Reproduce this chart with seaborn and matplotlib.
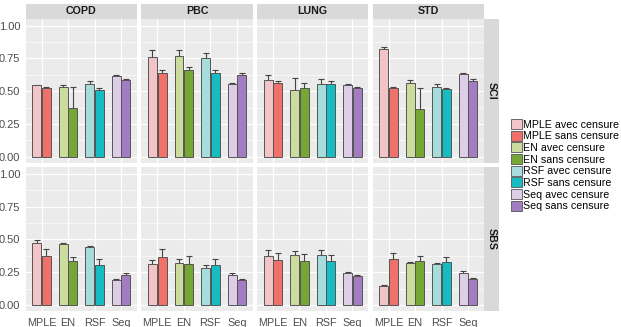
import numpy as np
import pandas as pd
import matplotlib
matplotlib.use("Agg")
import matplotlib.pyplot as plt
from matplotlib.patches import Rectangle, Patch
import seaborn as sns

datasets = ["COPD", "PBC", "LUNG", "STD"]
criteria = ["SCI", "SBS"]
methods = ["MPLE", "EN", "RSF", "Seq"]
censures = ["avec censure", "sans censure"]

# bar heights and top of error bar, one row per dataset, one column per method
sci_avec = [[0.545, 0.53, 0.555, 0.615], [0.76, 0.77, 0.75, 0.555],
            [0.585, 0.505, 0.557, 0.549], [0.823, 0.562, 0.529, 0.633]]
sci_avec_hi = [[0.55, 0.55, 0.575, 0.625], [0.81, 0.81, 0.79, 0.565],
               [0.62, 0.60, 0.595, 0.557], [0.835, 0.582, 0.552, 0.64]]
sci_sans = [[0.52, 0.37, 0.51, 0.585], [0.64, 0.66, 0.64, 0.62],
            [0.565, 0.524, 0.557, 0.527], [0.524, 0.36, 0.516, 0.58]]
sci_sans_hi = [[0.53, 0.53, 0.52, 0.595], [0.66, 0.685, 0.66, 0.635],
               [0.58, 0.56, 0.575, 0.534], [0.53, 0.52, 0.527, 0.592]]

sbs_avec = [[0.475, 0.467, 0.442, 0.188], [0.312, 0.322, 0.284, 0.228],
            [0.373, 0.378, 0.381, 0.244], [0.142, 0.317, 0.31, 0.244]]
sbs_avec_hi = [[0.492, 0.475, 0.452, 0.2], [0.34, 0.35, 0.305, 0.241],
               [0.419, 0.414, 0.419, 0.254], [0.155, 0.33, 0.32, 0.256]]
sbs_sans = [[0.373, 0.332, 0.307, 0.228], [0.368, 0.315, 0.302, 0.19],
            [0.345, 0.335, 0.332, 0.221], [0.353, 0.338, 0.33, 0.195]]
sbs_sans_hi = [[0.424, 0.368, 0.35, 0.246], [0.424, 0.373, 0.35, 0.2],
               [0.393, 0.386, 0.381, 0.231], [0.398, 0.376, 0.368, 0.206]]

colors = {
    ("MPLE", "avec censure"): "#F2C4C8", ("MPLE", "sans censure"): "#F0706A",
    ("EN", "avec censure"): "#CCDB9E", ("EN", "sans censure"): "#76A633",
    ("RSF", "avec censure"): "#A6DCDC", ("RSF", "sans censure"): "#15BDC2",
    ("Seq", "avec censure"): "#DDCDE6", ("Seq", "sans censure"): "#A27DC2",
}

rows = []
tables = {"SCI": (sci_avec, sci_avec_hi, sci_sans, sci_sans_hi),
          "SBS": (sbs_avec, sbs_avec_hi, sbs_sans, sbs_sans_hi)}
for crit in criteria:
    av, avh, sa, sah = tables[crit]
    for i, d in enumerate(datasets):
        for j, m in enumerate(methods):
            rows.append(dict(crit=crit, data=d, method=m, censure="avec censure",
                             value=av[i][j], hi=avh[i][j]))
            rows.append(dict(crit=crit, data=d, method=m, censure="sans censure",
                             value=sa[i][j], hi=sah[i][j]))
df = pd.DataFrame(rows)

sns.set_theme(style="darkgrid")
plt.rcParams["font.family"] = ["Liberation Sans", "DejaVu Sans"]

W, H = 621, 327
fig, axes = plt.subplots(2, 4, figsize=(W / 100, H / 100), dpi=100, sharey=True)
fig.subplots_adjust(left=25.7 / W, right=484 / W, top=1 - 19 / H,
                    bottom=1 - 311.5 / H, wspace=0.038, hspace=0.028)

for r, crit in enumerate(criteria):
    for c, d in enumerate(datasets):
        ax = axes[r, c]
        sub = df[(df.crit == crit) & (df.data == d)]
        sns.barplot(data=sub, x="method", y="value", hue="censure",
                    order=methods, hue_order=censures, errorbar=None,
                    width=0.72, gap=0.06, legend=False, ax=ax,
                    edgecolor="#555555", linewidth=0.7, zorder=3)
        bar_sets = list(ax.containers)
        for k, cont in enumerate(bar_sets):
            cen = censures[k]
            for j, bar in enumerate(cont):
                m = methods[j]
                bar.set_facecolor(colors[(m, cen)])
                row = sub[(sub.method == m) & (sub.censure == cen)].iloc[0]
                xc = bar.get_x() + bar.get_width() / 2
                err = row.hi - row.value
                ax.errorbar(xc, row.value, yerr=err, color="#444444", lw=0.8,
                            capsize=2.2, capthick=0.8, zorder=2)
        ax.set_facecolor("#EBEBEB")
        ax.set_xlim(0.4 - 1, 4.6 - 1)
        ax.set_ylim(-0.05, 1.05)
        ax.set_yticks([0, 0.25, 0.5, 0.75, 1.0])
        ax.set_yticks([0.125, 0.375, 0.625, 0.875], minor=True)
        ax.grid(True, which="major", color="white", lw=0.9)
        ax.grid(True, which="minor", axis="y", color="white", lw=0.45)
        ax.set_axisbelow(True)
        for s in ax.spines.values():
            s.set_visible(False)
        ax.set_xlabel("")
        ax.set_ylabel("")
        ax.tick_params(axis="both", length=2.5, width=0.6, color="#444444",
                       labelcolor="#4D4D4D", labelsize=8, pad=1.5)
        ax.tick_params(axis="y", which="minor", length=0)
        if c == 0:
            ax.set_yticklabels(["0.00", "0.25", "0.50", "0.75", "1.00"])
        else:
            ax.tick_params(axis="y", length=0, labelleft=False)
        if r == 0:
            ax.tick_params(axis="x", length=0, labelbottom=False)
        else:
            ax.tick_params(axis="x", labelsize=7.8, pad=2)

        pos = ax.get_position()
        if r == 0:
            sh = 15 / H
            fig.add_artist(Rectangle((pos.x0, pos.y1), pos.width, sh,
                                     transform=fig.transFigure,
                                     facecolor="#D9D9D9", edgecolor="none"))
            fig.text(pos.x0 + pos.width / 2, pos.y1 + sh / 2, d,
                     ha="center", va="center", fontsize=7.7,
                     fontweight="bold", color="#1A1A1A")
        if c == 3:
            sw = 15 / W
            fig.add_artist(Rectangle((pos.x1, pos.y0), sw, pos.height,
                                     transform=fig.transFigure,
                                     facecolor="#D9D9D9", edgecolor="none"))
            fig.text(pos.x1 + sw / 2, pos.y0 + pos.height / 2, crit,
                     ha="center", va="center", fontsize=7.7, rotation=-90,
                     fontweight="bold", color="#1A1A1A")

handles = []
for m in methods:
    for cen in censures:
        handles.append(Patch(facecolor=colors[(m, cen)], edgecolor="#555555",
                             linewidth=0.6, label=f"{m} {cen}"))
leg = fig.legend(handles=handles, loc="upper left",
                 bbox_to_anchor=(511 / W, 1 - 119 / H), frameon=False,
                 fontsize=7.7, handlelength=1.0, handleheight=1.05,
                 handletextpad=0.1, labelspacing=0.1, borderpad=0,
                 borderaxespad=0)
for t in leg.get_texts():
    t.set_color("black")

fig.savefig("out.png", dpi=100)
